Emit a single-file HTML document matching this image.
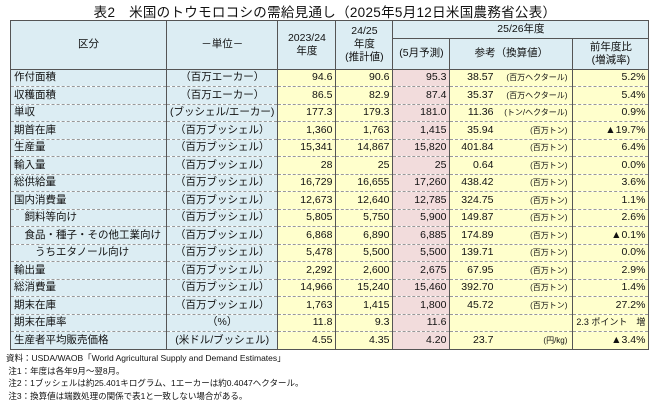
<!DOCTYPE html>
<html><head><meta charset="utf-8">
<style>
body{margin:0;width:650px;height:403px;background:#fff;font-family:"Liberation Sans","Noto Sans CJK JP",sans-serif;color:#111;overflow:hidden;position:relative}
#title{position:absolute;left:0;top:1px;width:650px;text-align:center;font-size:13.5px;font-weight:normal;letter-spacing:0.3px}
table{position:absolute;left:10px;top:20px;border-collapse:collapse;table-layout:fixed;font-size:10.5px;border:1.5px solid #555}
td,th{padding:0 3px;height:16.5px;line-height:15px;white-space:nowrap;overflow:hidden;border-left:1px solid #555;border-right:1px solid #555;border-bottom:1px dashed #999;font-weight:normal}
th{background:#dcedf3;border:1px solid #555;text-align:center;line-height:13px}
td.l{background:#dcedf3;text-align:left}
td.u{background:#dcedf3;text-align:center}
td.y{background:#ffffcc;text-align:right}
td.p{background:#f2dcdc;text-align:right}
td.r{background:#ffffcc;text-align:left}
td.r .n{display:inline-block;width:40px;text-align:right}
td.r .s{float:right;font-size:8px;margin-right:2px}
td.c{background:#ffffcc;text-align:right}
#notes{position:absolute;left:6px;top:352px;font-size:8.5px;line-height:12.6px}
</style></head><body>
<div id="title">表2　米国のトウモロコシの需給見通し（2025年5月12日米国農務省公表）</div>
<table>
<colgroup><col style="width:156px"><col style="width:107px"><col style="width:58px"><col style="width:57px"><col style="width:57px"><col style="width:123px"><col style="width:71px"></colgroup>
<tr style="height:17px"><th rowspan="2" style="height:47px">区分</th><th rowspan="2">－単位－</th><th rowspan="2">2023/24<br>年度</th><th rowspan="2">24/25<br>年度<br>(推計値)</th><th colspan="3">25/26年度</th></tr>
<tr style="height:31px"><th>(5月予測)</th><th>参考（換算値）</th><th>前年度比<br>(増減率)</th></tr>
<tr><td class="l">作付面積</td><td class="u">（百万エーカー）</td><td class="y">94.6</td><td class="y">90.6</td><td class="p">95.3</td><td class="r"><span class="n">38.57</span><span class="s">(百万ヘクタール)</span></td><td class="c">5.2%</td></tr>
<tr><td class="l">収穫面積</td><td class="u">（百万エーカー）</td><td class="y">86.5</td><td class="y">82.9</td><td class="p">87.4</td><td class="r"><span class="n">35.37</span><span class="s">(百万ヘクタール)</span></td><td class="c">5.4%</td></tr>
<tr><td class="l">単収</td><td class="u">(ブッシェル/エーカー)</td><td class="y">177.3</td><td class="y">179.3</td><td class="p">181.0</td><td class="r"><span class="n">11.36</span><span class="s">(トン/ヘクタール)</span></td><td class="c">0.9%</td></tr>
<tr><td class="l">期首在庫</td><td class="u">（百万ブッシェル）</td><td class="y">1,360</td><td class="y">1,763</td><td class="p">1,415</td><td class="r"><span class="n">35.94</span><span class="s">(百万トン)</span></td><td class="c">▲19.7%</td></tr>
<tr><td class="l">生産量</td><td class="u">（百万ブッシェル）</td><td class="y">15,341</td><td class="y">14,867</td><td class="p">15,820</td><td class="r"><span class="n">401.84</span><span class="s">(百万トン)</span></td><td class="c">6.4%</td></tr>
<tr><td class="l">輸入量</td><td class="u">（百万ブッシェル）</td><td class="y">28</td><td class="y">25</td><td class="p">25</td><td class="r"><span class="n">0.64</span><span class="s">(百万トン)</span></td><td class="c">0.0%</td></tr>
<tr><td class="l">総供給量</td><td class="u">（百万ブッシェル）</td><td class="y">16,729</td><td class="y">16,655</td><td class="p">17,260</td><td class="r"><span class="n">438.42</span><span class="s">(百万トン)</span></td><td class="c">3.6%</td></tr>
<tr><td class="l">国内消費量</td><td class="u">（百万ブッシェル）</td><td class="y">12,673</td><td class="y">12,640</td><td class="p">12,785</td><td class="r"><span class="n">324.75</span><span class="s">(百万トン)</span></td><td class="c">1.1%</td></tr>
<tr><td class="l">　飼料等向け</td><td class="u">（百万ブッシェル）</td><td class="y">5,805</td><td class="y">5,750</td><td class="p">5,900</td><td class="r"><span class="n">149.87</span><span class="s">(百万トン)</span></td><td class="c">2.6%</td></tr>
<tr><td class="l">　食品・種子・その他工業向け</td><td class="u">（百万ブッシェル）</td><td class="y">6,868</td><td class="y">6,890</td><td class="p">6,885</td><td class="r"><span class="n">174.89</span><span class="s">(百万トン)</span></td><td class="c">▲0.1%</td></tr>
<tr><td class="l">　　うちエタノール向け</td><td class="u">（百万ブッシェル）</td><td class="y">5,478</td><td class="y">5,500</td><td class="p">5,500</td><td class="r"><span class="n">139.71</span><span class="s">(百万トン)</span></td><td class="c">0.0%</td></tr>
<tr><td class="l">輸出量</td><td class="u">（百万ブッシェル）</td><td class="y">2,292</td><td class="y">2,600</td><td class="p">2,675</td><td class="r"><span class="n">67.95</span><span class="s">(百万トン)</span></td><td class="c">2.9%</td></tr>
<tr><td class="l">総消費量</td><td class="u">（百万ブッシェル）</td><td class="y">14,966</td><td class="y">15,240</td><td class="p">15,460</td><td class="r"><span class="n">392.70</span><span class="s">(百万トン)</span></td><td class="c">1.4%</td></tr>
<tr><td class="l">期末在庫</td><td class="u">（百万ブッシェル）</td><td class="y">1,763</td><td class="y">1,415</td><td class="p">1,800</td><td class="r"><span class="n">45.72</span><span class="s">(百万トン)</span></td><td class="c">27.2%</td></tr>
<tr><td class="l">期末在庫率</td><td class="u">（%）</td><td class="y">11.8</td><td class="y">9.3</td><td class="p">11.6</td><td class="r"></td><td class="c" style="font-size:9px">2.3 ポイント　増</td></tr>
<tr><td class="l">生産者平均販売価格</td><td class="u">(米ドル/ブッシェル)</td><td class="y">4.55</td><td class="y">4.35</td><td class="p">4.20</td><td class="r"><span class="n">23.7</span><span class="s">(円/kg)</span></td><td class="c">▲3.4%</td></tr>
</table>
<div id="notes">資料：USDA/WAOB「World Agricultural Supply and Demand Estimates」<br>&nbsp;注1：年度は各年9月～翌8月。<br>&nbsp;注2：1ブッシェルは約25.401キログラム、1エーカーは約0.4047ヘクタール。<br>&nbsp;注3：換算値は端数処理の関係で表1と一致しない場合がある。</div>
</body></html>
